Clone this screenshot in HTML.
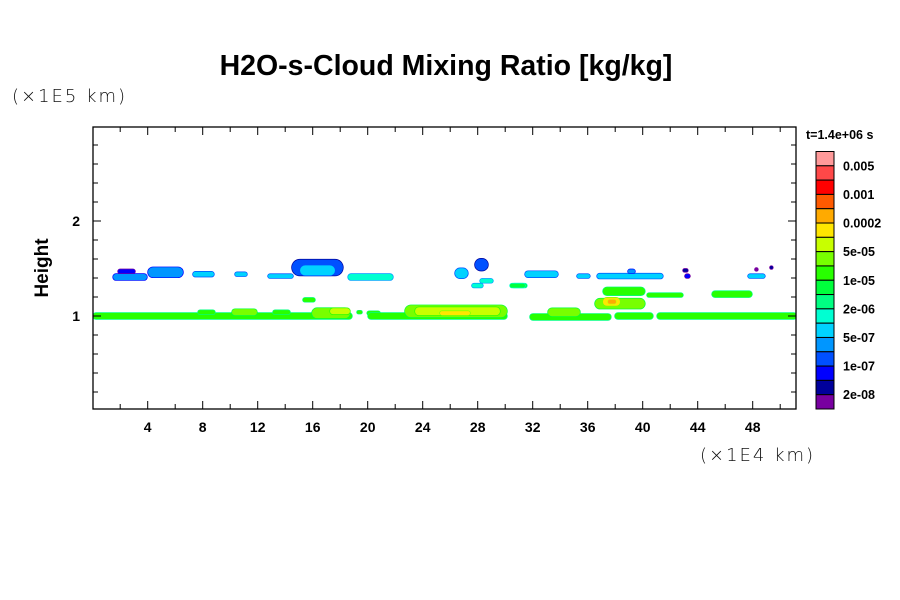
<!DOCTYPE html>
<html><head><meta charset="utf-8"><style>
body{margin:0;background:#fff;}
svg{display:block;font-family:"Liberation Sans",sans-serif;}
</style></head><body>
<svg id="chart" width="900" height="600" viewBox="0 0 900 600">
<rect width="900" height="600" fill="#fff"/>
<text x="446" y="75" text-anchor="middle" font-size="28.5" font-weight="bold">H2O-s-Cloud Mixing Ratio [kg/kg]</text>
<text x="12" y="102" font-size="18" letter-spacing="2" font-family="DejaVu Sans,sans-serif" font-weight="200" fill="#111">(×1E5 km)</text>
<text x="700" y="461" font-size="18" letter-spacing="2" font-family="DejaVu Sans,sans-serif" font-weight="200" fill="#111">(×1E4 km)</text>
<text transform="translate(48,268) rotate(-90)" text-anchor="middle" font-size="19" font-weight="bold">Height</text>
<text x="806" y="139" font-size="12.5" font-weight="bold">t=1.4e+06 s</text>
<clipPath id="pc"><rect x="93" y="127" width="703" height="282"/></clipPath>
<g id="marks" clip-path="url(#pc)"></g>
<g id="axes"></g>
<g id="cbar"></g>
</svg>
<script>
const levelColors=["#7800a0","#00009b","#0000ff","#0050ff","#0096ff","#00d2ff","#00ffd2","#00ff82","#00ff3c","#28ff00","#78ff00","#c8ff00","#ffe600","#ffaa00","#ff5a00","#ff0000","#ff4848","#ff9a9a"];
const cbarLabels=["0.005","0.001","0.0002","5e-05","1e-05","2e-06","5e-07","1e-07","2e-08"];
const xTicks=[4,8,12,16,20,24,28,32,36,40,44,48];
const yTicks=[1,2];
// cloud patches: start x, end x (x1E4 km), centre height (x1E5 km), half thickness, level
const blobX0=[1.48,1.84,4.02,7.29,10.35,12.75,14.49,15.08,18.57,26.35,27.80,28.17,27.58,30.49,15.29,0.02,7.66,10.13,13.11,15.95,17.26,19.22,19.96,20.02,22.71,23.44,25.26,31.80,33.11,37.98,41.04,36.53,37.11,37.47,37.11,40.31,45.04,30.35,31.44,35.22,36.68,38.93,42.93,43.07,47.66,48.16,49.25];
const blobX1=[3.95,3.08,6.57,8.82,11.22,14.57,18.20,17.62,21.84,27.29,28.75,29.11,28.38,31.58,16.17,18.86,8.89,11.95,14.35,18.71,18.71,19.59,20.90,30.13,30.13,29.62,27.44,37.69,35.44,40.75,51.2,40.16,38.35,38.06,40.16,42.93,47.95,31.44,33.84,36.16,41.47,39.44,43.29,43.44,48.89,48.38,49.47];
const blobY=[1.41,1.47,1.46,1.44,1.44,1.42,1.51,1.48,1.41,1.45,1.54,1.37,1.32,1.32,1.17,1.00,1.04,1.04,1.04,1.03,1.05,1.04,1.03,1.00,1.05,1.05,1.03,0.99,1.04,1.00,1.00,1.13,1.15,1.15,1.26,1.22,1.23,1.32,1.44,1.42,1.42,1.47,1.48,1.42,1.42,1.49,1.51];
const blobH=[0.032,0.021,0.053,0.026,0.021,0.021,0.084,0.053,0.032,0.053,0.063,0.021,0.021,0.021,0.021,0.032,0.021,0.032,0.021,0.053,0.032,0.016,0.021,0.032,0.063,0.042,0.021,0.032,0.042,0.032,0.032,0.053,0.042,0.021,0.042,0.021,0.032,0.021,0.032,0.021,0.026,0.021,0.016,0.021,0.021,0.016,0.016];
const blobLevel=[4,2,4,5,5,5,3,5,6,5,3,6,6,8,9,9,9,10,9,10,11,9,9,9,10,11,12,9,10,9,9,10,12,13,9,9,9,8,5,5,5,4,1,2,5,0,1];

const X0=92.7,XS=13.75,Y0=411,YS=95;
const sx=v=>X0+v*XS, sy=v=>Y0-v*YS;
const NS="http://www.w3.org/2000/svg";
function mk(tag,attrs,parent){const e=document.createElementNS(NS,tag);for(const k in attrs)e.setAttribute(k,attrs[k]);parent.appendChild(e);return e;}
const marks=document.getElementById('marks');
for(let i=0;i<blobX0.length;i++){
  const x=sx(blobX0[i]),w=sx(blobX1[i])-x,yc=sy(blobY[i]),h=blobH[i]*YS*2;
  const lv=blobLevel[i];
  const edge=mk('rect',{x:x-0.7,y:yc-h/2-0.7,width:w+1.4,height:h+1.4,rx:Math.min(w,h)/2+0.7,fill:levelColors[Math.max(lv-2,0)]},marks);
  
  
  const r=mk('rect',{x:x,y:yc-h/2,width:w,height:h,rx:Math.min(w,h)/2,fill:levelColors[lv]},marks);
  
  
}
const axes=document.getElementById('axes');
mk('rect',{x:93,y:127,width:703,height:282,fill:'none',stroke:'#000','stroke-width':1.3},axes);
for(let v=2;v<=50;v+=2){
  const len=v%4===0?8:5, x=sx(v);
  mk('line',{x1:x,y1:409,x2:x,y2:409-len,stroke:'#000'},axes);
  mk('line',{x1:x,y1:127,x2:x,y2:127+len,stroke:'#000'},axes);
}
for(let k=1;k<15;k++){
  const v=k*0.2, len=(k%5===0)?8:5, y=sy(v);
  mk('line',{x1:93,y1:y,x2:93+len,y2:y,stroke:'#000'},axes);
  mk('line',{x1:796,y1:y,x2:796-len,y2:y,stroke:'#000'},axes);
}
xTicks.forEach(v=>{const t=mk('text',{x:sx(v),y:432,'text-anchor':'middle','font-size':14,'font-weight':'bold'},axes);t.textContent=v;
  
  });
yTicks.forEach(v=>{const t=mk('text',{x:80,y:sy(v)+5,'text-anchor':'end','font-size':14,'font-weight':'bold'},axes);t.textContent=v;
  
  });
const cb=document.getElementById('cbar');
const bh=(409-151.5)/levelColors.length;
for(let i=0;i<levelColors.length;i++){
  const r=mk('rect',{x:816,y:151.5+i*bh,width:18,height:bh,fill:levelColors[levelColors.length-1-i],stroke:'#000','stroke-width':1},cb);
  
  
}
cbarLabels.forEach((s,i)=>{const t=mk('text',{x:843,y:151.5+(2*i+1)*bh+4.5,'font-size':12.5,'font-weight':'bold'},cb);t.textContent=s;
  
  });
</script>
</body></html>
